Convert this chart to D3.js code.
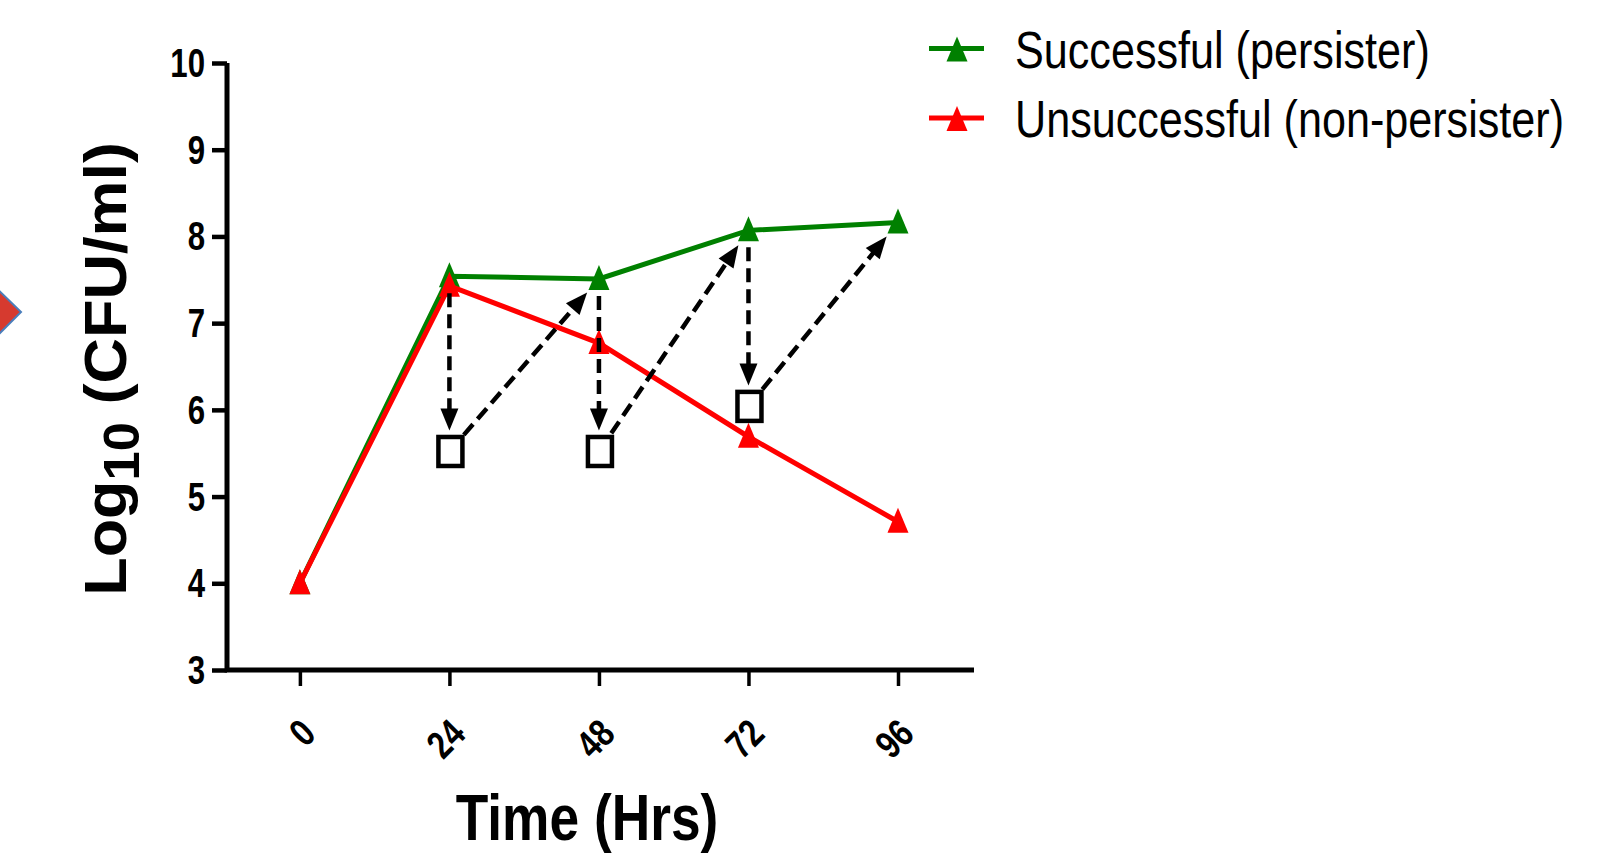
<!DOCTYPE html>
<html>
<head>
<meta charset="utf-8">
<script src="https://cdn.jsdelivr.net/npm/d3@7/dist/d3.min.js"></script>
<style>
  body { margin: 0; background: #fff; }
  svg { display: block; }
  text { font-family: "Liberation Sans", Arial, sans-serif; }
</style>
</head>
<body>
<svg id="chart" width="1619" height="858"></svg>
<script>
// DATA
var times = [0, 24, 48, 72, 96];
var successful = [4.0, 7.54, 7.51, 8.07, 8.16];
var unsuccessful = [4.0, 7.43, 6.77, 5.69, 4.71];
var squareTimes = [24, 48, 72];
var squareValues = [5.52, 5.52, 6.04];
var yTicks = [3, 4, 5, 6, 7, 8, 9, 10];
var seriesNames = ["Successful (persister)", "Unsuccessful (non-persister)"];
var seriesColors = ["#008000", "#ff0000"];

var svg = d3.select("#chart");
var narrow = 0.8;   // squeeze text sideways, the source fonts are condensed

// SCALES
var x = d3.scaleLinear().domain([-11.7, 108.2]).range([227, 974]);
var y = d3.scaleLinear().domain([3, 10]).range([670, 63]);

// little arrow shape on the far left (slide leftover)
svg.append("path")
    .attr("d", "M-10,282 L21,312 L-10,343 Z")
    .attr("fill", "#d63a2f")
    .attr("stroke", "#4a7ebb")
    .attr("stroke-width", 2);

// AXES
var yAxis = d3.axisLeft(y).tickValues(yTicks).tickSize(15).tickFormat("");
var gy = svg.append("g").attr("transform", "translate(" + x(-11.7) + ",0)").call(yAxis);
gy.select(".domain").remove();
gy.selectAll(".tick line").attr("stroke", "#000").attr("stroke-width", 4.5);

svg.selectAll(".ylab")
    .data(yTicks)
    .enter().append("text")
    .attr("transform", function (d) { return "translate(205," + (y(d) + 14) + ") scale(0.78,1)"; })
    .attr("text-anchor", "end")
    .attr("font-size", 40)
    .attr("font-weight", "bold")
    .text(function (d) { return d; });

var xAxis = d3.axisBottom(x).tickValues(times).tickSize(16).tickFormat("");
var gx = svg.append("g").attr("transform", "translate(0," + y(3) + ")").call(xAxis);
gx.select(".domain").remove();
gx.selectAll(".tick line").attr("stroke", "#000").attr("stroke-width", 3.5);

// axis lines
svg.append("path")
    .attr("d", "M" + x(-11.7) + "," + y(10) + " L" + x(-11.7) + "," + y(3) + " L" + x(108.2) + "," + y(3))
    .attr("fill", "none")
    .attr("stroke", "#000")
    .attr("stroke-width", 5);

// rotated x tick labels
svg.selectAll(".xlab")
    .data(times)
    .enter().append("text")
    .attr("transform", function (d) { return "translate(" + (x(d) + 18) + ",736) rotate(-45) scale(" + narrow + ",1)"; })
    .attr("text-anchor", "end")
    .attr("font-size", 39)
    .attr("font-weight", "bold")
    .text(function (d) { return d; });

// axis titles
svg.append("text")
    .attr("transform", "translate(587,840) scale(0.82,1)")
    .attr("text-anchor", "middle")
    .attr("font-size", 65)
    .attr("font-weight", "bold")
    .text("Time (Hrs)");

var ylab = svg.append("text")
    .attr("transform", "translate(126,369) rotate(-90) scale(1.05,1)")
    .attr("text-anchor", "middle")
    .attr("font-size", 60)
    .attr("font-weight", "bold");
ylab.append("tspan").text("Log");
ylab.append("tspan").attr("font-size", 50).attr("dy", 13).text("10");
ylab.append("tspan").attr("dy", -13).text(" (CFU/ml)");

// SERIES
var tri = "M0,-14 L10.5,11 L-10.5,11 Z";
var line = d3.line()
    .x(function (d) { return x(d[0]); })
    .y(function (d) { return y(d[1]); });

[successful, unsuccessful].forEach(function (vals, s) {
    var pts = times.map(function (t, i) { return [t, vals[i]]; });
    svg.append("path")
        .attr("d", line(pts))
        .attr("fill", "none")
        .attr("stroke", seriesColors[s])
        .attr("stroke-width", 5);
    svg.selectAll(".m" + s)
        .data(pts)
        .enter().append("path")
        .attr("d", tri)
        .attr("transform", function (d) { return "translate(" + x(d[0]) + "," + y(d[1]) + ")"; })
        .attr("fill", seriesColors[s]);
});

// DASHED ARROWS
function arrow(x1, y1, x2, y2, cutStart, cutEnd) {
    var dx = x2 - x1, dy = y2 - y1;
    var len = Math.sqrt(dx * dx + dy * dy);
    var ux = dx / len, uy = dy / len;
    var sx = x1 + ux * cutStart, sy = y1 + uy * cutStart;
    var tx = x2 - ux * cutEnd, ty = y2 - uy * cutEnd;
    var head = 22, half = 9;
    var bx = tx - ux * head, by = ty - uy * head;
    svg.append("line")
        .attr("x1", sx).attr("y1", sy)
        .attr("x2", bx + ux * 2).attr("y2", by + uy * 2)
        .attr("stroke", "#000")
        .attr("stroke-width", 4.5)
        .attr("stroke-dasharray", "14,7");
    svg.append("path")
        .attr("d", "M" + tx + "," + ty +
            " L" + (bx - uy * half) + "," + (by + ux * half) +
            " L" + (bx + uy * half) + "," + (by - ux * half) + " Z")
        .attr("fill", "#000");
}

squareTimes.forEach(function (t, i) {
    var gi = times.indexOf(t);
    // down from persister point to the square
    arrow(x(t), y(successful[gi]), x(t), y(squareValues[i]), 17, 21);
    // up from the square to the next persister point
    arrow(x(t), y(squareValues[i]), x(times[gi + 1]), y(successful[gi + 1]), 22, 18);
});

// squares
svg.selectAll(".sq")
    .data(squareTimes)
    .enter().append("rect")
    .attr("x", function (d) { return x(d) - 11; })
    .attr("y", function (d, i) { return y(squareValues[i]) - 14.5; })
    .attr("width", 24)
    .attr("height", 29)
    .attr("fill", "#fff")
    .attr("stroke", "#000")
    .attr("stroke-width", 4.5);

// LEGEND
var legY = [48.5, 118];
var baseY = [68, 137];
seriesNames.forEach(function (name, s) {
    svg.append("line")
        .attr("x1", 929).attr("x2", 984)
        .attr("y1", legY[s]).attr("y2", legY[s])
        .attr("stroke", seriesColors[s])
        .attr("stroke-width", 5);
    svg.append("path")
        .attr("d", tri)
        .attr("transform", "translate(957," + (legY[s] + 2) + ")")
        .attr("fill", seriesColors[s]);
    svg.append("text")
        .attr("transform", "translate(1015," + baseY[s] + ") scale(0.83,1)")
        .attr("font-size", 52)
        .text(name);
});
</script>
</body>
</html>
